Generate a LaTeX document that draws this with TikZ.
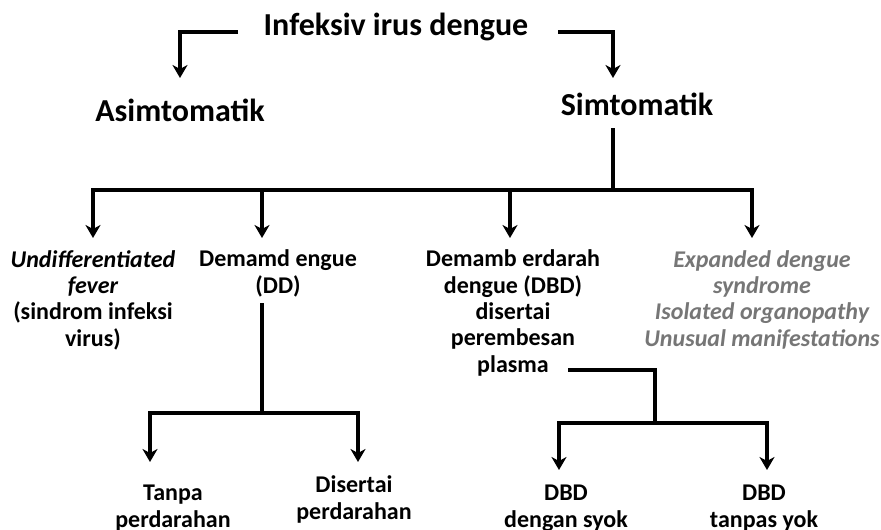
\documentclass[tikz,border=0pt]{standalone}
\usepackage{fontspec}
\setmainfont{Carlito}
\usetikzlibrary{arrows.meta}
\definecolor{muted}{RGB}{118,118,118}
\begin{document}
\begin{tikzpicture}[x=1pt,y=-1pt,
  head/.style={font=\bfseries\fontsize{32}{36}\selectfont, anchor=base, inner sep=0pt},
  % multi-line labels are placed by the baseline of their last line
  lbl/.style={font=\bfseries\fontsize{24}{26.3}\selectfont, align=center, anchor=base, inner sep=0pt},
  ln/.style={line width=3.4pt},
  arr/.style={ln, -{Stealth[length=13pt,width=15pt,inset=4pt]}}]
\useasboundingbox (0,0) rectangle (881,530);

% headings
\node[head] (t) at (396,35) {Infeksiv irus dengue};
\node[head] (a) at (180,121) {Asimtomatik};
\node[head] (s) at (637,115) {Simtomatik};

% second level
\node[lbl] (u) at (93,346) {{\itshape Undifferentiated}\\{\itshape fever}\\(sindrom infeksi\\virus)};
\node[lbl] (dd) at (278,293) {Demamd engue\\(DD)};
\node[lbl] (dbd) at (513,372) {Demamb erdarah\\dengue (DBD)\\disertai\\perembesan\\plasma};
\node[lbl, text=muted, font=\bfseries\itshape\fontsize{24}{26.3}\selectfont] (ex) at (762,346)
  {Expanded dengue\\syndrome\\Isolated organopathy\\Unusual manifestations};

% third level
\node[lbl] (tp) at (173,527) {Tanpa\\perdarahan};
\node[lbl] (dp) at (354,519) {Disertai\\perdarahan};
\node[lbl] (ds) at (566,527) {DBD\\dengan syok};
\node[lbl] (ts) at (764,527) {DBD\\tanpas yok};

% connector end points
\coordinate (tL) at (238,32);
\coordinate (tR) at (558,32);
\coordinate (aTip) at (180,78);
\coordinate (sTip) at (613,78);
\coordinate (sOut) at (613,128);
\coordinate (j1) at (613,190);
\coordinate (uTip) at (93,238);
\coordinate (ddTip) at (262,238);
\coordinate (dbdTip) at (510,238);
\coordinate (exTip) at (752,238);
\coordinate (ddOut) at (262,303);
\coordinate (j2) at (262,413);
\coordinate (tpTip) at (150,462);
\coordinate (dpTip) at (358,462);
\coordinate (dbdOut) at (568,370);
\coordinate (j3) at (655,423);
\coordinate (dsTip) at (559,470);
\coordinate (tsTip) at (767,470);

% title to its two branches
\draw[arr] (tL) -| (aTip);
\draw[arr] (tR) -| (sTip);

% symptomatic branches
\draw[ln] (sOut) -- (j1);
\draw[arr] (j1) -| (uTip);
\draw[arr] (j1) -| (ddTip);
\draw[arr] (j1) -| (dbdTip);
\draw[arr] (j1) -| (exTip);

% dengue fever branches
\draw[ln] (ddOut) -- (j2);
\draw[arr] (j2) -| (tpTip);
\draw[arr] (j2) -| (dpTip);

% haemorrhagic fever branches
\draw[ln] (dbdOut) -| (j3);
\draw[arr] (j3) -| (dsTip);
\draw[arr] (j3) -| (tsTip);
\end{tikzpicture}
\end{document}
